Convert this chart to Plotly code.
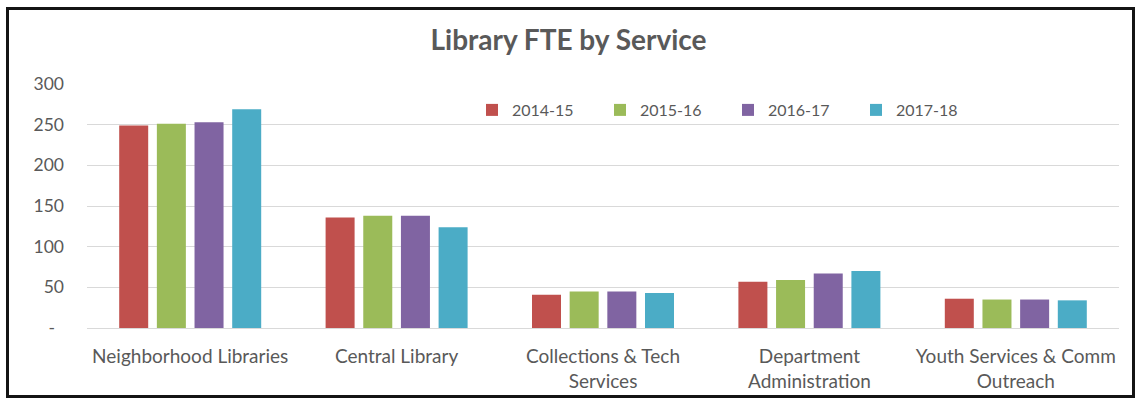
import plotly.graph_objects as go

# Library staffing (FTE) by service area, four fiscal years
categories = [
    "Neighborhood Libraries",
    "Central Library",
    "Collections & Tech<br>Services",
    "Department<br>Administration",
    "Youth Services & Comm<br>Outreach",
]
fte_2014_15 = [249, 136, 41, 57, 36]
fte_2015_16 = [251, 138, 45, 59, 35]
fte_2016_17 = [253, 138, 45, 67, 35]
fte_2017_18 = [269, 124, 43, 70, 34]

year_labels = ["2014-15", "2015-16", "2016-17", "2017-18"]
series = [fte_2014_15, fte_2015_16, fte_2016_17, fte_2017_18]
colors = ["#C0504D", "#9BBB59", "#8064A2", "#4BACC6"]

y_ticks = [0, 50, 100, 150, 200, 250, 300]
y_ticktext = ["-\u00a0\u00a0", "50", "100", "150", "200", "250", "300"]

FONT = "Lato, 'Open Sans', sans-serif"
TEXT_GRAY = "#595959"

fig = go.Figure()
for name, vals, col in zip(year_labels, series, colors):
    fig.add_trace(go.Bar(name=name, x=categories, y=vals, marker_color=col,
                         marker_line_width=0))

W, H = 1137, 400
L, R, T, B = 87, 18, 84, 72
pw, ph = W - L - R, H - T - B

def px_to_paper_x(px):
    return (px - L) / pw

def px_to_paper_y(py):
    return (H - B - py) / ph

fig.update_layout(
    width=W, height=H,
    margin=dict(l=L, r=R, t=T, b=B, pad=0, autoexpand=False),
    paper_bgcolor="white", plot_bgcolor="white",
    font=dict(family=FONT, color=TEXT_GRAY),
    title=dict(text="Library FTE by Service", x=0.5, xanchor="center",
               y=1 - 40 / H, yanchor="middle", automargin=False,
               font=dict(family=FONT, size=28, color=TEXT_GRAY, weight="bold")),
    barmode="group", bargap=0.27, bargroupgap=0.23,
    showlegend=True,
    legend=dict(orientation="h", x=px_to_paper_x(472), xanchor="left",
                y=px_to_paper_y(110), yanchor="middle",
                entrywidth=83, entrywidthmode="pixels",
                bgcolor="rgba(0,0,0,0)", font=dict(size=16, color=TEXT_GRAY),
                traceorder="normal"),
    xaxis=dict(showgrid=False, showline=True, linecolor="#D9D9D9", linewidth=1,
               ticks="", tickfont=dict(size=19, color=TEXT_GRAY),
               ticklabelstandoff=11, automargin=False, fixedrange=True),
    yaxis=dict(range=[0, 300], tickvals=y_ticks, ticktext=y_ticktext,
               showgrid=True, gridcolor="#D9D9D9", gridwidth=1,
               zeroline=False, showline=False, ticks="",
               tickfont=dict(size=17.5, color=TEXT_GRAY),
               ticklabelstandoff=22, automargin=False, fixedrange=True),
    shapes=[dict(type="rect", xref="paper", yref="paper",
                 x0=px_to_paper_x(7.5), x1=px_to_paper_x(1133.5),
                 y0=px_to_paper_y(396.5), y1=px_to_paper_y(8.5),
                 line=dict(color="#141414", width=3), fillcolor="rgba(0,0,0,0)",
                 layer="above")],
)

fig.write_html("out.html")
